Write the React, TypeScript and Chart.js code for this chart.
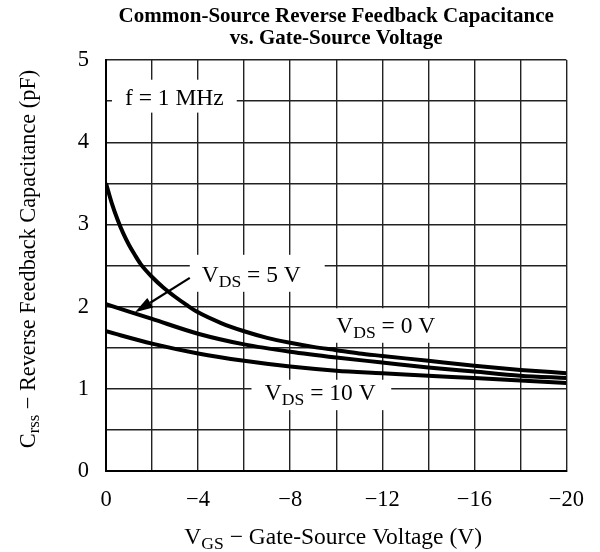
import React, { useEffect, useRef } from "react";
import { Chart, registerables } from "chart.js";
Chart.register(...registerables);

// Data (VGS in volts, Crss in pF)
const vgsFine = [0, -0.25, -0.5, -0.75, -1, -1.25, -1.5, -2, -2.5, -3, -3.5, -4, -5, -6, -7, -8, -9, -10, -11, -12, -14, -16, -18, -20];
const crssVds0 = [3.5, 3.26, 3.06, 2.89, 2.75, 2.63, 2.52, 2.36, 2.23, 2.12, 2.02, 1.93, 1.8, 1.7, 1.62, 1.56, 1.51, 1.47, 1.43, 1.4, 1.34, 1.28, 1.23, 1.19];
const vgs = [0, -2, -4, -6, -8, -10, -12, -14, -16, -18, -20];
const crssVds5 = [2.03, 1.85, 1.67, 1.54, 1.45, 1.38, 1.32, 1.26, 1.21, 1.16, 1.13];
const crssVds10 = [1.7, 1.55, 1.43, 1.34, 1.27, 1.22, 1.19, 1.16, 1.13, 1.1, 1.07];

const titleLines = ["Common-Source Reverse Feedback Capacitance", "vs. Gate-Source Voltage"];
const xTickValues = [0, -4, -8, -12, -16, -20];
const yTickValues = [0, 1, 2, 3, 4, 5];

const FONT = "'Liberation Serif', 'Times New Roman', serif";
const SUB = 0.75;

type Part = { t: string; sub?: boolean };

function partsWidth(ctx: CanvasRenderingContext2D, parts: Part[], size: number) {
  let w = 0;
  for (const p of parts) {
    ctx.font = `${p.sub ? size * SUB : size}px ${FONT}`;
    w += ctx.measureText(p.t).width;
  }
  return w;
}

function drawParts(ctx: CanvasRenderingContext2D, parts: Part[], x: number, y: number, size: number, align: "left" | "center") {
  const w = partsWidth(ctx, parts, size);
  let cx = align === "center" ? x - w / 2 : x;
  ctx.textAlign = "left";
  ctx.textBaseline = "alphabetic";
  ctx.fillStyle = "#000";
  for (const p of parts) {
    const s = p.sub ? size * SUB : size;
    ctx.font = `${s}px ${FONT}`;
    ctx.fillText(p.t, cx, y + (p.sub ? size * 0.2 : 0));
    cx += ctx.measureText(p.t).width;
  }
}

// Annotation layout in data units
const notes = [
  { box: [-0.26, -5.68, 4.76, 4.36], at: [-2.97, 4.45], parts: [{ t: "f = 1 MHz" }], align: "center" },
  { box: [-3.64, -9.5, 2.63, 2.18], at: [-4.16, 2.3], parts: [{ t: "V" }, { t: "DS", sub: true }, { t: " = 5 V" }], align: "left" },
  { box: [-9.5, -14.8, 1.98, 1.56], at: [-10.0, 1.675], parts: [{ t: "V" }, { t: "DS", sub: true }, { t: " = 0 V" }], align: "left" },
  { box: [-6.32, -12.39, 1.11, 0.74], at: [-6.9, 0.864], parts: [{ t: "V" }, { t: "DS", sub: true }, { t: " = 10 V" }], align: "left" },
];
const arrowFrom = [-3.64, 2.35];
const arrowTo = [-1.26, 1.93];

const overlay = {
  id: "overlay",
  beforeDatasetsDraw(chart: any) {
    const { ctx, scales } = chart;
    const xs = scales.x, ys = scales.y;
    ctx.save();
    ctx.fillStyle = "#fff";
    for (const n of notes) {
      const x1 = xs.getPixelForValue(n.box[0]);
      const x2 = xs.getPixelForValue(n.box[1]);
      const y1 = ys.getPixelForValue(n.box[2]);
      const y2 = ys.getPixelForValue(n.box[3]);
      ctx.fillRect(x1, y1, x2 - x1, y2 - y1);
    }
    ctx.restore();
  },
  afterDraw(chart: any) {
    const { ctx, scales, chartArea } = chart;
    const xs = scales.x, ys = scales.y;
    ctx.save();
    for (const n of notes) {
      drawParts(ctx, n.parts as Part[], xs.getPixelForValue(n.at[0]), ys.getPixelForValue(n.at[1]), 23.5, n.align as any);
    }
    // arrow
    const ax1 = xs.getPixelForValue(arrowFrom[0]), ay1 = ys.getPixelForValue(arrowFrom[1]);
    const ax2 = xs.getPixelForValue(arrowTo[0]), ay2 = ys.getPixelForValue(arrowTo[1]);
    const ang = Math.atan2(ay2 - ay1, ax2 - ax1);
    const hl = 18, hw = 5.5;
    const bx = ax2 - hl * Math.cos(ang), by = ay2 - hl * Math.sin(ang);
    ctx.strokeStyle = "#000";
    ctx.lineWidth = 2.2;
    ctx.beginPath();
    ctx.moveTo(ax1, ay1);
    ctx.lineTo(bx, by);
    ctx.stroke();
    ctx.fillStyle = "#000";
    ctx.beginPath();
    ctx.moveTo(ax2, ay2);
    ctx.lineTo(bx + hw * Math.sin(ang), by - hw * Math.cos(ang));
    ctx.lineTo(bx - hw * Math.sin(ang), by + hw * Math.cos(ang));
    ctx.closePath();
    ctx.fill();

    // title
    const cx = (chartArea.left + chartArea.right) / 2;
    ctx.font = `bold 21px ${FONT}`;
    ctx.textAlign = "center";
    ctx.textBaseline = "alphabetic";
    ctx.fillStyle = "#000";
    ctx.fillText(titleLines[0], cx, 22);
    ctx.fillText(titleLines[1], cx, 44);

    // x-axis title
    drawParts(ctx, [{ t: "V" }, { t: "GS", sub: true }, { t: " \u2212 Gate-Source Voltage (V)" }], cx - 3, 544, 23.5, "center");

    // y-axis title
    ctx.save();
    ctx.translate(35, 259);
    ctx.rotate(-Math.PI / 2);
    drawParts(ctx, [{ t: "C" }, { t: "rss", sub: true }, { t: " \u2212 Reverse Feedback Capacitance (pF)" }], 0, 0, 22.3, "center");
    ctx.restore();
    ctx.restore();
  },
};

export default function App() {
  const ref = useRef<HTMLCanvasElement | null>(null);
  useEffect(() => {
    if (!ref.current) return;
    const line = { borderColor: "#000", borderWidth: 4, pointRadius: 0, fill: false, cubicInterpolationMode: "monotone" as const };
    const chart = new Chart(ref.current, {
      type: "line",
      data: {
        datasets: [
          { ...line, label: "VDS = 0 V", data: vgsFine.map((x, i) => ({ x, y: crssVds0[i] })) },
          { ...line, label: "VDS = 5 V", data: vgs.map((x, i) => ({ x, y: crssVds5[i] })) },
          { ...line, label: "VDS = 10 V", data: vgs.map((x, i) => ({ x, y: crssVds10[i] })) },
        ],
      },
      options: {
        animation: false,
        responsive: true,
        maintainAspectRatio: false,
        layout: { padding: { top: 60, right: 33, left: 0, bottom: 0 } },
        plugins: { legend: { display: false }, tooltip: { enabled: false }, title: { display: false } },
        scales: {
          x: {
            type: "linear",
            min: -20,
            max: 0,
            reverse: true,
            afterFit: (s: any) => { s.height = 81; },
            afterBuildTicks: (s: any) => { s.ticks = [0, -2, -4, -6, -8, -10, -12, -14, -16, -18, -20].map((v) => ({ value: v })); },
            ticks: {
              autoSkip: false,
              maxRotation: 0,
              padding: 16,
              color: "#000",
              font: { family: FONT, size: 22.5 },
              callback: (v: any) => (xTickValues.includes(Number(v)) ? (Number(v) === 0 ? "0" : "\u2212" + Math.abs(Number(v))) : ""),
            },
            grid: { color: "#222", lineWidth: 1.4, drawTicks: false },
            border: { color: "#000", width: 2 },
          },
          y: {
            type: "linear",
            min: 0,
            max: 5,
            afterFit: (s: any) => { s.width = 106; },
            afterBuildTicks: (s: any) => { s.ticks = [0, 0.5, 1, 1.5, 2, 2.5, 3, 3.5, 4, 4.5, 5].map((v) => ({ value: v })); },
            ticks: {
              autoSkip: false,
              padding: 17,
              color: "#000",
              font: { family: FONT, size: 22.5 },
              callback: (v: any) => (yTickValues.includes(Number(v)) ? String(v) : ""),
            },
            grid: { color: "#222", lineWidth: 1.4, drawTicks: false },
            border: { color: "#000", width: 2 },
          },
        },
      },
      plugins: [overlay],
    });
    return () => chart.destroy();
  }, []);
  return (
    <div style={{ position: "fixed", left: 0, top: 0, width: 600, height: 552, background: "#fff" }}>
      <canvas ref={ref} />
    </div>
  );
}
